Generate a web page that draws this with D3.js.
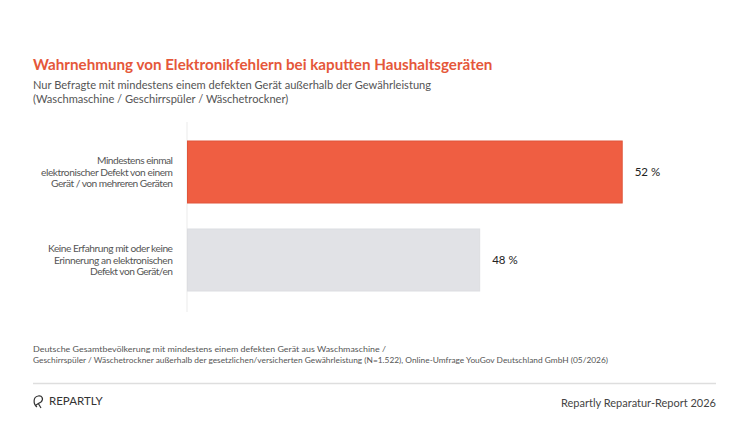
<!DOCTYPE html>
<html>
<head>
<meta charset="utf-8">
<title>Elektronikfehler</title>
<script src="https://cdnjs.cloudflare.com/ajax/libs/d3/7.8.5/d3.min.js"></script>
<style>
  body { margin: 0; background: #fff; }
  svg text { font-family: Lato, "Open Sans", sans-serif; }
</style>
</head>
<body>
<div id="chart"></div>
<script>
const categories = [
  ["Mindestens einmal", "elektronischer Defekt von einem", "Gerät / von mehreren Geräten"],
  ["Keine Erfahrung mit oder keine", "Erinnerung an elektronischen", "Defekt von Gerät/en"]
];
const values = [52, 48];
const colors = ["#ef5e42", "#e1e2e6"];
const strokes = ["#e0553a", "#dcdde1"];
const footnote = [
  "Deutsche Gesamtbevölkerung mit mindestens einem defekten Gerät aus Waschmaschine /",
  "Geschirrspüler / Wäschetrockner außerhalb der gesetzlichen/versicherten  Gewährleistung (N=1.522), Online-Umfrage YouGov Deutschland GmbH (05/2026)"
];
// line widths of the category labels as set in the original
const catWidths = [[76, 132, 122], [125, 119, 83]];

const width = 750, height = 422;
const svg = d3.select("#chart").append("svg")
  .attr("width", width).attr("height", height);

// title + subtitle
svg.append("text").attr("x", 33).attr("y", 70)
  .attr("fill", "#e5573a").attr("font-size", 15.2).attr("font-weight", 700)
  .text("Wahrnehmung von Elektronikfehlern bei kaputten Haushaltsgeräten");
svg.append("text").attr("x", 33).attr("y", 89)
  .attr("fill", "#555").attr("font-size", 11.1)
  .text("Nur Befragte mit mindestens einem defekten Gerät außerhalb der Gewährleistung");
svg.append("text").attr("x", 33).attr("y", 103)
  .attr("fill", "#555").attr("font-size", 11.1)
  .text("(Waschmaschine / Geschirrspüler / Wäschetrockner)");

// scales (axis in the original does not start at zero)
const x = d3.scaleLinear().domain([39.8, 52]).range([187, 621.7]);
const y = d3.scaleBand().domain(d3.range(values.length))
  .range([123.4, 308.6]).paddingInner(26 / 88).paddingOuter(0.2);

svg.append("line")
  .attr("x1", 187).attr("x2", 187).attr("y1", 122).attr("y2", 312)
  .attr("stroke", "#ebebeb").attr("stroke-width", 1);

svg.selectAll("rect.bar").data(values).join("rect")
  .attr("class", "bar")
  .attr("x", x.range()[0] + 0.5)
  .attr("y", (d, i) => y(i))
  .attr("width", d => x(d) - x.range()[0])
  .attr("height", y.bandwidth())
  .attr("fill", (d, i) => colors[i])
  .attr("stroke", (d, i) => strokes[i]);

svg.selectAll("text.val").data(values).join("text")
  .attr("class", "val")
  .attr("x", d => x(d) + 13)
  .attr("y", (d, i) => y(i) + y.bandwidth() / 2 + 4)
  .attr("fill", "#222").attr("font-size", 11.5)
  .text(d => d + " %");

categories.forEach((lines, i) => {
  svg.selectAll("text.cat" + i).data(lines).join("text")
    .attr("class", "cat" + i)
    .attr("x", 173)
    .attr("y", (d, j) => y(i) + y.bandwidth() / 2 + 3.5 + (j - 1) * 11.8)
    .attr("text-anchor", "end")
    .attr("fill", "#555").attr("font-size", 10.2)
    .attr("textLength", (d, j) => catWidths[i][j])
    .attr("lengthAdjust", "spacing")
    .text(d => d);
});

// footnote
svg.selectAll("text.foot").data(footnote).join("text")
  .attr("class", "foot")
  .attr("x", 33).attr("y", (d, i) => 352 + i * 11)
  .attr("fill", "#555").attr("font-size", 8)
  .attr("textLength", (d, i) => i === 0 ? 353 : 575)
  .attr("lengthAdjust", "spacingAndGlyphs")
  .text(d => d);

svg.append("line")
  .attr("x1", 33).attr("x2", 716).attr("y1", 383.5).attr("y2", 383.5)
  .attr("stroke", "#dedede").attr("stroke-width", 1.5);

// logo
svg.append("path")
  .attr("d", "M37,407 C33,404 33,397 38,396 C42,395 44,399 41,402 L36,405 M38,403 L41,408")
  .attr("fill", "none").attr("stroke", "#333").attr("stroke-width", 1.2);
svg.append("text").attr("x", 49).attr("y", 405)
  .attr("fill", "#333").attr("font-size", 11.5)
  .text("REPARTLY");
svg.append("text").attr("x", 716).attr("y", 407).attr("text-anchor", "end")
  .attr("fill", "#444").attr("font-size", 11)
  .text("Repartly Reparatur-Report 2026");
</script>
</body>
</html>
